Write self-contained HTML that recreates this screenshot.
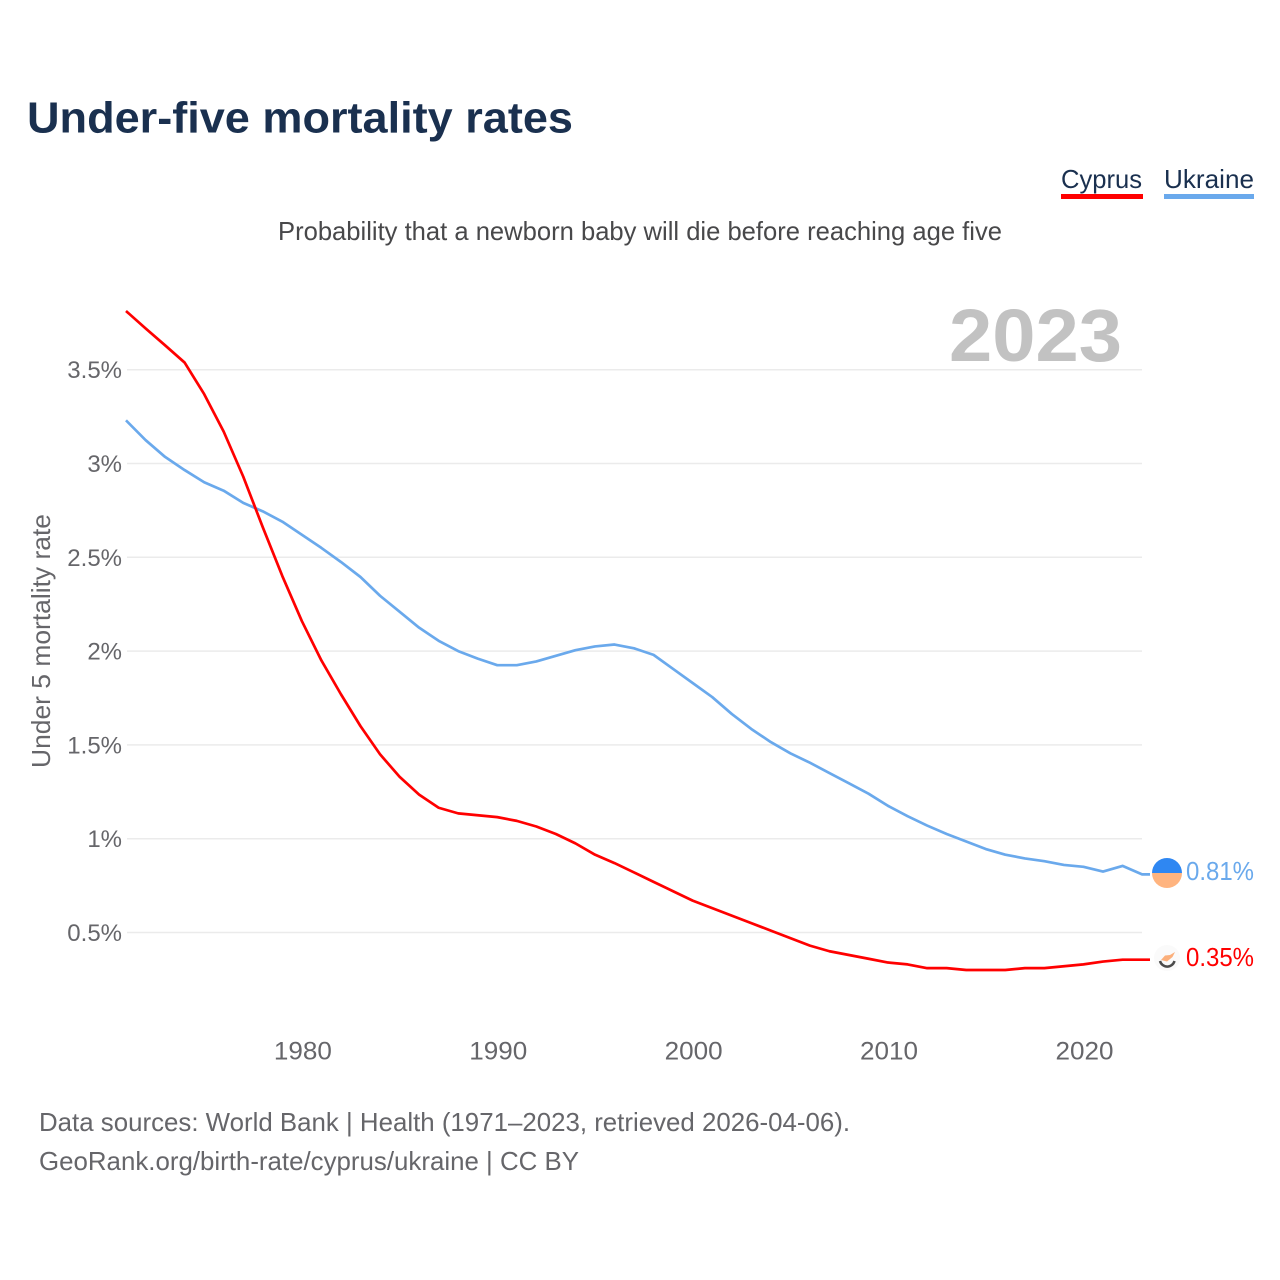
<!DOCTYPE html>
<html lang="en">
<head>
<meta charset="utf-8">
<title>Under-five mortality rates</title>
<style>
html,body{margin:0;padding:0;background:#fff;}
svg{display:block;}
text{font-family:"Liberation Sans",sans-serif;}
</style>
</head>
<body>
<svg id="chart" xmlns="http://www.w3.org/2000/svg" width="1280" height="1280" viewBox="0 0 1280 1280">
  <rect x="0" y="0" width="1280" height="1280" fill="#ffffff"/>
  <text x="27" y="132.500" font-size="44" font-weight="700" fill="#1a304f" textLength="546" lengthAdjust="spacingAndGlyphs">Under-five mortality rates</text>
  <g>
    <text x="1061" y="188" font-size="26" fill="#1a304f" textLength="81" lengthAdjust="spacingAndGlyphs">Cyprus</text>
    <rect x="1061" y="194" width="82" height="5" fill="#ff0000"/>
  </g>
  <g>
    <text x="1164" y="188" font-size="26" fill="#1a304f" textLength="90" lengthAdjust="spacingAndGlyphs">Ukraine</text>
    <rect x="1164" y="194" width="90" height="5" fill="#6aa9ec"/>
  </g>
  <text x="278" y="240" font-size="26" fill="#48484a" textLength="724" lengthAdjust="spacingAndGlyphs">Probability that a newborn baby will die before reaching age five</text>
  <g id="grid"></g>
  <g id="y-ticks"></g>
  <g id="x-ticks"></g>
  <text x="949" y="361" font-size="74" font-weight="700" fill="#c2c2c2" textLength="173" lengthAdjust="spacingAndGlyphs">2023</text>
  <text transform="translate(50,768) rotate(-90)" x="0" y="0" font-size="26" fill="#66666a" textLength="254" lengthAdjust="spacingAndGlyphs">Under 5 mortality rate</text>
  <g id="series"></g>
  <g>
    <path d="M1152 873 A15 15 0 0 1 1182 873 Z" fill="#2f87f2"/>
    <path d="M1152 873 A15 15 0 0 0 1182 873 Z" fill="#ffb47f"/>
  </g>
  <g>
    <circle cx="1167" cy="958" r="13" fill="#fafafa"/>
    <path d="M1161 960 L1165 955.500 L1170 955 L1175 952 L1172.500 957 L1167 961.500 Z" fill="#fbaf7b"/>
    <path d="M1160 961 A7.500 7.500 0 0 0 1174.500 961" fill="none" stroke="#4b4b4b" stroke-width="2.500"/>
  </g>
  <text id="label-ukraine" x="1186" y="880" font-size="26" fill="#6aa9ec" textLength="68" lengthAdjust="spacingAndGlyphs"></text>
  <text id="label-cyprus" x="1186" y="966" font-size="26" fill="#ff0000" textLength="68" lengthAdjust="spacingAndGlyphs"></text>
  <text x="39" y="1131" font-size="26" fill="#66666a" textLength="811" lengthAdjust="spacingAndGlyphs">Data sources: World Bank | Health (1971–2023, retrieved 2026-04-06).</text>
  <text x="39" y="1170" font-size="26" fill="#66666a" textLength="540" lengthAdjust="spacingAndGlyphs">GeoRank.org/birth-rate/cyprus/ukraine | CC BY</text>
</svg>
<script>
var startYear = 1971;
var cyprusValues = [3.813,3.72,3.63,3.538,3.37,3.17,2.93,2.66,2.4,2.16,1.95,1.77,1.6,1.45,1.33,1.235,1.165,1.135,1.125,1.115,1.095,1.065,1.025,0.975,0.915,0.87,0.82,0.77,0.72,0.67,0.63,0.59,0.55,0.51,0.47,0.43,0.4,0.38,0.36,0.34,0.33,0.31,0.31,0.3,0.3,0.3,0.31,0.31,0.32,0.33,0.345,0.355,0.355];
var ukraineValues = [3.23,3.125,3.035,2.965,2.9,2.855,2.79,2.745,2.69,2.62,2.55,2.475,2.395,2.295,2.21,2.125,2.055,2,1.96,1.925,1.925,1.945,1.975,2.005,2.025,2.035,2.015,1.98,1.905,1.83,1.755,1.665,1.585,1.515,1.455,1.405,1.35,1.295,1.24,1.175,1.12,1.07,1.025,0.985,0.945,0.915,0.895,0.88,0.86,0.85,0.825,0.855,0.81];
var yTickValues = [0.5,1,1.5,2,2.5,3,3.5];
var yTickLabels = ["0.5%","1%","1.5%","2%","2.5%","3%","3.5%"];
var xTickYears = [1980,1990,2000,2010,2020];

var SVGNS = "http://www.w3.org/2000/svg";
function xScale(year){ return 126 + (year - 1971) * 19.54; }
function yScale(v){ return 932.5 - (v - 0.5) * 187.6; }
function make(tag, attrs, parent){
  var el = document.createElementNS(SVGNS, tag);
  for (var k in attrs) { el.setAttribute(k, attrs[k]); }
  parent.appendChild(el);
  return el;
}

var grid = document.getElementById("grid");
var yTicks = document.getElementById("y-ticks");
yTickValues.forEach(function(v, i){
  var line = make("line", {x1:127, x2:1142, y1:yScale(v), y2:yScale(v), stroke:"#ebebeb", "stroke-width":1.5}, grid);
  
  
  var label = make("text", {x:122, y:yScale(v) + 8.5, "text-anchor":"end", "font-size":24, fill:"#66666a"}, yTicks);
  
  
  label.textContent = yTickLabels[i];
});

var xTicks = document.getElementById("x-ticks");
xTickYears.forEach(function(year){
  var label = make("text", {x:xScale(year) + 1, y:1059.5, "text-anchor":"middle", "font-size":25, fill:"#66666a", textLength:58, lengthAdjust:"spacingAndGlyphs"}, xTicks);
  
  
  label.textContent = String(year);
});

function linePoints(values){
  var pts = values.map(function(v, i){
    return xScale(startYear + i).toFixed(2) + "," + yScale(v).toFixed(2);
  });
  pts.push("1150," + yScale(values[values.length - 1]).toFixed(2));
  return pts.join(" ");
}
var series = document.getElementById("series");
var ukraineLine = make("polyline", {points:linePoints(ukraineValues), fill:"none", stroke:"#6aa9ec", "stroke-width":2.7, "stroke-linejoin":"round"}, series);


var cyprusLine = make("polyline", {points:linePoints(cyprusValues), fill:"none", stroke:"#ff0000", "stroke-width":2.7, "stroke-linejoin":"round"}, series);



document.getElementById("label-ukraine").textContent = ukraineValues[ukraineValues.length - 1].toFixed(2) + "%";
document.getElementById("label-cyprus").textContent = cyprusValues[cyprusValues.length - 1].toFixed(2) + "%";
</script>
</body>
</html>
